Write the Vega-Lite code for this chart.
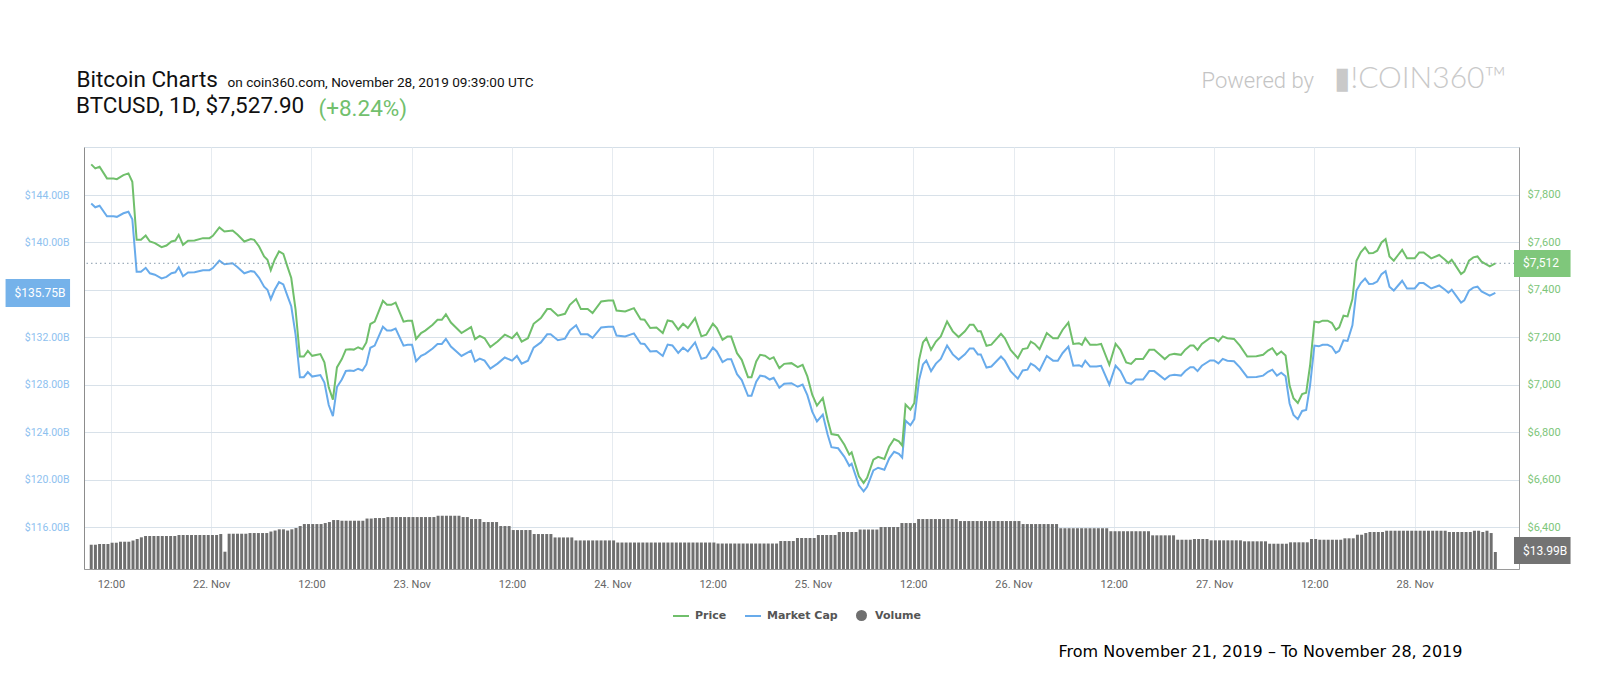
{
"$schema": "https://vega.github.io/schema/vega-lite/v6.json",
"width": 1435,
"height": 422,
"autosize": "none",
"padding": {"left": 84, "top": 147, "right": 81, "bottom": 131},
"background": "white",
"config": {"view": {"stroke": "#d5dfe8"}, "font": "Roboto"},
"title": {"text": "BTCUSD, 1D, $7,527.90", "anchor": "start", "frame": "group", "orient": "top", "offset": 0, "dx": -8, "dy": 72, "baseline": "alphabetic", "font": "Roboto", "fontSize": 22.5, "fontWeight": "normal", "color": "#111111"},
"datasets": {
"vol": [
{"t":"2019-11-21T09:39:00Z","v":19.98},{"t":"2019-11-21T10:09:00Z","v":19.98},{"t":"2019-11-21T10:39:00Z","v":20.56},{"t":"2019-11-21T11:09:00Z","v":20.56},{"t":"2019-11-21T11:39:00Z","v":20.56},{"t":"2019-11-21T12:09:00Z","v":21.63},{"t":"2019-11-21T12:39:00Z","v":21.63},{"t":"2019-11-21T13:09:00Z","v":22.45},{"t":"2019-11-21T13:39:00Z","v":22.45},{"t":"2019-11-21T14:09:00Z","v":22.45},{"t":"2019-11-21T14:39:00Z","v":23.44},{"t":"2019-11-21T15:09:00Z","v":24.67},{"t":"2019-11-21T15:39:00Z","v":26.07},{"t":"2019-11-21T16:09:00Z","v":27.14},{"t":"2019-11-21T16:39:00Z","v":27.14},{"t":"2019-11-21T17:09:00Z","v":27.14},{"t":"2019-11-21T17:39:00Z","v":27.14},{"t":"2019-11-21T18:09:00Z","v":27.14},{"t":"2019-11-21T18:39:00Z","v":27.14},{"t":"2019-11-21T19:09:00Z","v":27.14},{"t":"2019-11-21T19:39:00Z","v":27.14},{"t":"2019-11-21T20:09:00Z","v":27.96},{"t":"2019-11-21T20:39:00Z","v":27.96},{"t":"2019-11-21T21:09:00Z","v":27.96},{"t":"2019-11-21T21:39:00Z","v":27.96},{"t":"2019-11-21T22:09:00Z","v":27.96},{"t":"2019-11-21T22:39:00Z","v":27.96},{"t":"2019-11-21T23:09:00Z","v":27.96},{"t":"2019-11-21T23:39:00Z","v":27.96},
{"t":"2019-11-22T00:09:00Z","v":27.96},{"t":"2019-11-22T00:39:00Z","v":27.96},{"t":"2019-11-22T01:09:00Z","v":28.78},{"t":"2019-11-22T01:39:00Z","v":14.23},{"t":"2019-11-22T02:09:00Z","v":29.03},{"t":"2019-11-22T02:39:00Z","v":29.03},{"t":"2019-11-22T03:09:00Z","v":29.03},{"t":"2019-11-22T03:39:00Z","v":29.03},{"t":"2019-11-22T04:09:00Z","v":29.03},{"t":"2019-11-22T04:39:00Z","v":29.6},{"t":"2019-11-22T05:09:00Z","v":29.6},{"t":"2019-11-22T05:39:00Z","v":29.6},{"t":"2019-11-22T06:09:00Z","v":29.6},{"t":"2019-11-22T06:39:00Z","v":29.6},{"t":"2019-11-22T07:09:00Z","v":30.84},{"t":"2019-11-22T07:39:00Z","v":31.66},{"t":"2019-11-22T08:09:00Z","v":32.65},{"t":"2019-11-22T08:39:00Z","v":32.65},{"t":"2019-11-22T09:09:00Z","v":31.66},{"t":"2019-11-22T09:39:00Z","v":32.65},{"t":"2019-11-22T10:09:00Z","v":33.71},{"t":"2019-11-22T10:39:00Z","v":35.36},{"t":"2019-11-22T11:09:00Z","v":37.0},{"t":"2019-11-22T11:39:00Z","v":37.0},{"t":"2019-11-22T12:09:00Z","v":37.0},{"t":"2019-11-22T12:39:00Z","v":37.0},{"t":"2019-11-22T13:09:00Z","v":37.0},{"t":"2019-11-22T13:39:00Z","v":37.83},{"t":"2019-11-22T14:09:00Z","v":38.65},{"t":"2019-11-22T14:39:00Z","v":40.29},{"t":"2019-11-22T15:09:00Z","v":40.29},{"t":"2019-11-22T15:39:00Z","v":39.72},{"t":"2019-11-22T16:09:00Z","v":39.72},{"t":"2019-11-22T16:39:00Z","v":39.72},{"t":"2019-11-22T17:09:00Z","v":39.72},{"t":"2019-11-22T17:39:00Z","v":39.72},{"t":"2019-11-22T18:09:00Z","v":39.72},{"t":"2019-11-22T18:39:00Z","v":41.53},{"t":"2019-11-22T19:09:00Z","v":41.53},{"t":"2019-11-22T19:39:00Z","v":41.94},{"t":"2019-11-22T20:09:00Z","v":41.94},{"t":"2019-11-22T20:39:00Z","v":41.94},{"t":"2019-11-22T21:09:00Z","v":42.76},{"t":"2019-11-22T21:39:00Z","v":42.76},{"t":"2019-11-22T22:09:00Z","v":42.76},{"t":"2019-11-22T22:39:00Z","v":42.76},{"t":"2019-11-22T23:09:00Z","v":42.76},{"t":"2019-11-22T23:39:00Z","v":42.76},
{"t":"2019-11-23T00:09:00Z","v":42.76},{"t":"2019-11-23T00:39:00Z","v":42.76},{"t":"2019-11-23T01:09:00Z","v":42.76},{"t":"2019-11-23T01:39:00Z","v":42.76},{"t":"2019-11-23T02:09:00Z","v":42.76},{"t":"2019-11-23T02:39:00Z","v":42.76},{"t":"2019-11-23T03:09:00Z","v":43.83},{"t":"2019-11-23T03:39:00Z","v":43.83},{"t":"2019-11-23T04:09:00Z","v":43.83},{"t":"2019-11-23T04:39:00Z","v":43.83},{"t":"2019-11-23T05:09:00Z","v":43.83},{"t":"2019-11-23T05:39:00Z","v":43.83},{"t":"2019-11-23T06:09:00Z","v":42.76},{"t":"2019-11-23T06:39:00Z","v":42.76},{"t":"2019-11-23T07:09:00Z","v":41.12},{"t":"2019-11-23T07:39:00Z","v":41.12},{"t":"2019-11-23T08:09:00Z","v":41.12},{"t":"2019-11-23T08:39:00Z","v":38.65},{"t":"2019-11-23T09:09:00Z","v":38.65},{"t":"2019-11-23T09:39:00Z","v":38.65},{"t":"2019-11-23T10:09:00Z","v":38.65},{"t":"2019-11-23T10:39:00Z","v":35.36},{"t":"2019-11-23T11:09:00Z","v":35.36},{"t":"2019-11-23T11:39:00Z","v":35.36},{"t":"2019-11-23T12:09:00Z","v":32.07},{"t":"2019-11-23T12:39:00Z","v":32.07},{"t":"2019-11-23T13:09:00Z","v":32.07},{"t":"2019-11-23T13:39:00Z","v":32.07},{"t":"2019-11-23T14:09:00Z","v":32.07},{"t":"2019-11-23T14:39:00Z","v":28.78},{"t":"2019-11-23T15:09:00Z","v":28.78},{"t":"2019-11-23T15:39:00Z","v":28.78},{"t":"2019-11-23T16:09:00Z","v":28.78},{"t":"2019-11-23T16:39:00Z","v":28.78},{"t":"2019-11-23T17:09:00Z","v":25.98},{"t":"2019-11-23T17:39:00Z","v":25.98},{"t":"2019-11-23T18:09:00Z","v":25.98},{"t":"2019-11-23T18:39:00Z","v":25.98},{"t":"2019-11-23T19:09:00Z","v":25.98},{"t":"2019-11-23T19:39:00Z","v":23.52},{"t":"2019-11-23T20:09:00Z","v":23.52},{"t":"2019-11-23T20:39:00Z","v":23.52},{"t":"2019-11-23T21:09:00Z","v":23.52},{"t":"2019-11-23T21:39:00Z","v":23.52},{"t":"2019-11-23T22:09:00Z","v":23.52},{"t":"2019-11-23T22:39:00Z","v":23.52},{"t":"2019-11-23T23:09:00Z","v":23.52},{"t":"2019-11-23T23:39:00Z","v":23.52},
{"t":"2019-11-24T00:09:00Z","v":23.52},{"t":"2019-11-24T00:39:00Z","v":21.79},{"t":"2019-11-24T01:09:00Z","v":21.79},{"t":"2019-11-24T01:39:00Z","v":21.79},{"t":"2019-11-24T02:09:00Z","v":21.79},{"t":"2019-11-24T02:39:00Z","v":21.79},{"t":"2019-11-24T03:09:00Z","v":21.79},{"t":"2019-11-24T03:39:00Z","v":21.79},{"t":"2019-11-24T04:09:00Z","v":21.79},{"t":"2019-11-24T04:39:00Z","v":21.79},{"t":"2019-11-24T05:09:00Z","v":21.79},{"t":"2019-11-24T05:39:00Z","v":21.79},{"t":"2019-11-24T06:09:00Z","v":21.79},{"t":"2019-11-24T06:39:00Z","v":21.79},{"t":"2019-11-24T07:09:00Z","v":21.79},{"t":"2019-11-24T07:39:00Z","v":21.79},{"t":"2019-11-24T08:09:00Z","v":21.79},{"t":"2019-11-24T08:39:00Z","v":21.79},{"t":"2019-11-24T09:09:00Z","v":21.79},{"t":"2019-11-24T09:39:00Z","v":21.79},{"t":"2019-11-24T10:09:00Z","v":21.79},{"t":"2019-11-24T10:39:00Z","v":21.79},{"t":"2019-11-24T11:09:00Z","v":21.79},{"t":"2019-11-24T11:39:00Z","v":21.79},{"t":"2019-11-24T12:09:00Z","v":21.79},{"t":"2019-11-24T12:39:00Z","v":20.97},{"t":"2019-11-24T13:09:00Z","v":20.97},{"t":"2019-11-24T13:39:00Z","v":20.97},{"t":"2019-11-24T14:09:00Z","v":20.97},{"t":"2019-11-24T14:39:00Z","v":20.97},{"t":"2019-11-24T15:09:00Z","v":20.97},{"t":"2019-11-24T15:39:00Z","v":20.97},{"t":"2019-11-24T16:09:00Z","v":20.97},{"t":"2019-11-24T16:39:00Z","v":20.97},{"t":"2019-11-24T17:09:00Z","v":20.97},{"t":"2019-11-24T17:39:00Z","v":20.97},{"t":"2019-11-24T18:09:00Z","v":20.97},{"t":"2019-11-24T18:39:00Z","v":20.97},{"t":"2019-11-24T19:09:00Z","v":20.97},{"t":"2019-11-24T19:39:00Z","v":20.97},{"t":"2019-11-24T20:09:00Z","v":23.02},{"t":"2019-11-24T20:39:00Z","v":23.02},{"t":"2019-11-24T21:09:00Z","v":23.02},{"t":"2019-11-24T21:39:00Z","v":23.02},{"t":"2019-11-24T22:09:00Z","v":25.49},{"t":"2019-11-24T22:39:00Z","v":25.49},{"t":"2019-11-24T23:09:00Z","v":25.49},{"t":"2019-11-24T23:39:00Z","v":25.49},
{"t":"2019-11-25T00:09:00Z","v":25.49},{"t":"2019-11-25T00:39:00Z","v":27.96},{"t":"2019-11-25T01:09:00Z","v":27.96},{"t":"2019-11-25T01:39:00Z","v":27.96},{"t":"2019-11-25T02:09:00Z","v":27.96},{"t":"2019-11-25T02:39:00Z","v":27.96},{"t":"2019-11-25T03:09:00Z","v":30.43},{"t":"2019-11-25T03:39:00Z","v":30.43},{"t":"2019-11-25T04:09:00Z","v":30.43},{"t":"2019-11-25T04:39:00Z","v":30.43},{"t":"2019-11-25T05:09:00Z","v":30.43},{"t":"2019-11-25T05:39:00Z","v":32.48},{"t":"2019-11-25T06:09:00Z","v":32.48},{"t":"2019-11-25T06:39:00Z","v":32.48},{"t":"2019-11-25T07:09:00Z","v":32.48},{"t":"2019-11-25T07:39:00Z","v":32.48},{"t":"2019-11-25T08:09:00Z","v":34.54},{"t":"2019-11-25T08:39:00Z","v":34.54},{"t":"2019-11-25T09:09:00Z","v":34.54},{"t":"2019-11-25T09:39:00Z","v":34.54},{"t":"2019-11-25T10:09:00Z","v":34.54},{"t":"2019-11-25T10:39:00Z","v":37.83},{"t":"2019-11-25T11:09:00Z","v":37.83},{"t":"2019-11-25T11:39:00Z","v":37.83},{"t":"2019-11-25T12:09:00Z","v":37.83},{"t":"2019-11-25T12:39:00Z","v":41.12},{"t":"2019-11-25T13:09:00Z","v":41.12},{"t":"2019-11-25T13:39:00Z","v":41.12},{"t":"2019-11-25T14:09:00Z","v":41.12},{"t":"2019-11-25T14:39:00Z","v":41.12},{"t":"2019-11-25T15:09:00Z","v":41.12},{"t":"2019-11-25T15:39:00Z","v":41.12},{"t":"2019-11-25T16:09:00Z","v":41.12},{"t":"2019-11-25T16:39:00Z","v":41.12},{"t":"2019-11-25T17:09:00Z","v":41.12},{"t":"2019-11-25T17:39:00Z","v":39.47},{"t":"2019-11-25T18:09:00Z","v":39.47},{"t":"2019-11-25T18:39:00Z","v":39.47},{"t":"2019-11-25T19:09:00Z","v":39.47},{"t":"2019-11-25T19:39:00Z","v":39.47},{"t":"2019-11-25T20:09:00Z","v":39.47},{"t":"2019-11-25T20:39:00Z","v":39.47},{"t":"2019-11-25T21:09:00Z","v":39.47},{"t":"2019-11-25T21:39:00Z","v":39.47},{"t":"2019-11-25T22:09:00Z","v":39.47},{"t":"2019-11-25T22:39:00Z","v":39.47},{"t":"2019-11-25T23:09:00Z","v":39.47},{"t":"2019-11-25T23:39:00Z","v":39.47},
{"t":"2019-11-26T00:09:00Z","v":39.47},{"t":"2019-11-26T00:39:00Z","v":39.47},{"t":"2019-11-26T01:09:00Z","v":37.0},{"t":"2019-11-26T01:39:00Z","v":37.0},{"t":"2019-11-26T02:09:00Z","v":37.0},{"t":"2019-11-26T02:39:00Z","v":37.0},{"t":"2019-11-26T03:09:00Z","v":37.0},{"t":"2019-11-26T03:39:00Z","v":37.0},{"t":"2019-11-26T04:09:00Z","v":37.0},{"t":"2019-11-26T04:39:00Z","v":37.0},{"t":"2019-11-26T05:09:00Z","v":37.0},{"t":"2019-11-26T05:39:00Z","v":33.55},{"t":"2019-11-26T06:09:00Z","v":33.55},{"t":"2019-11-26T06:39:00Z","v":33.55},{"t":"2019-11-26T07:09:00Z","v":33.55},{"t":"2019-11-26T07:39:00Z","v":33.55},{"t":"2019-11-26T08:09:00Z","v":33.55},{"t":"2019-11-26T08:39:00Z","v":33.55},{"t":"2019-11-26T09:09:00Z","v":33.55},{"t":"2019-11-26T09:39:00Z","v":33.55},{"t":"2019-11-26T10:09:00Z","v":33.55},{"t":"2019-11-26T10:39:00Z","v":33.55},{"t":"2019-11-26T11:09:00Z","v":33.55},{"t":"2019-11-26T11:39:00Z","v":31.08},{"t":"2019-11-26T12:09:00Z","v":31.08},{"t":"2019-11-26T12:39:00Z","v":31.08},{"t":"2019-11-26T13:09:00Z","v":31.08},{"t":"2019-11-26T13:39:00Z","v":31.08},{"t":"2019-11-26T14:09:00Z","v":31.08},{"t":"2019-11-26T14:39:00Z","v":31.08},{"t":"2019-11-26T15:09:00Z","v":31.08},{"t":"2019-11-26T15:39:00Z","v":31.08},{"t":"2019-11-26T16:09:00Z","v":31.08},{"t":"2019-11-26T16:39:00Z","v":27.71},{"t":"2019-11-26T17:09:00Z","v":27.71},{"t":"2019-11-26T17:39:00Z","v":27.71},{"t":"2019-11-26T18:09:00Z","v":27.71},{"t":"2019-11-26T18:39:00Z","v":27.71},{"t":"2019-11-26T19:09:00Z","v":27.71},{"t":"2019-11-26T19:39:00Z","v":24.09},{"t":"2019-11-26T20:09:00Z","v":24.09},{"t":"2019-11-26T20:39:00Z","v":24.09},{"t":"2019-11-26T21:09:00Z","v":24.09},{"t":"2019-11-26T21:39:00Z","v":24.67},{"t":"2019-11-26T22:09:00Z","v":24.67},{"t":"2019-11-26T22:39:00Z","v":24.67},{"t":"2019-11-26T23:09:00Z","v":24.67},{"t":"2019-11-26T23:39:00Z","v":23.6},
{"t":"2019-11-27T00:09:00Z","v":23.6},{"t":"2019-11-27T00:39:00Z","v":23.6},{"t":"2019-11-27T01:09:00Z","v":23.6},{"t":"2019-11-27T01:39:00Z","v":23.6},{"t":"2019-11-27T02:09:00Z","v":23.6},{"t":"2019-11-27T02:39:00Z","v":23.6},{"t":"2019-11-27T03:09:00Z","v":23.6},{"t":"2019-11-27T03:39:00Z","v":22.78},{"t":"2019-11-27T04:09:00Z","v":22.78},{"t":"2019-11-27T04:39:00Z","v":22.78},{"t":"2019-11-27T05:09:00Z","v":22.78},{"t":"2019-11-27T05:39:00Z","v":22.78},{"t":"2019-11-27T06:09:00Z","v":22.78},{"t":"2019-11-27T06:39:00Z","v":20.8},{"t":"2019-11-27T07:09:00Z","v":20.8},{"t":"2019-11-27T07:39:00Z","v":20.8},{"t":"2019-11-27T08:09:00Z","v":20.8},{"t":"2019-11-27T08:39:00Z","v":20.8},{"t":"2019-11-27T09:09:00Z","v":21.96},{"t":"2019-11-27T09:39:00Z","v":21.96},{"t":"2019-11-27T10:09:00Z","v":21.96},{"t":"2019-11-27T10:39:00Z","v":21.96},{"t":"2019-11-27T11:09:00Z","v":21.96},{"t":"2019-11-27T11:39:00Z","v":24.67},{"t":"2019-11-27T12:09:00Z","v":24.67},{"t":"2019-11-27T12:39:00Z","v":24.09},{"t":"2019-11-27T13:09:00Z","v":24.09},{"t":"2019-11-27T13:39:00Z","v":24.09},{"t":"2019-11-27T14:09:00Z","v":24.09},{"t":"2019-11-27T14:39:00Z","v":24.09},{"t":"2019-11-27T15:09:00Z","v":24.09},{"t":"2019-11-27T15:39:00Z","v":25.25},{"t":"2019-11-27T16:09:00Z","v":25.25},{"t":"2019-11-27T16:39:00Z","v":25.25},{"t":"2019-11-27T17:09:00Z","v":28.21},{"t":"2019-11-27T17:39:00Z","v":28.21},{"t":"2019-11-27T18:09:00Z","v":29.6},{"t":"2019-11-27T18:39:00Z","v":30.43},{"t":"2019-11-27T19:09:00Z","v":30.43},{"t":"2019-11-27T19:39:00Z","v":30.43},{"t":"2019-11-27T20:09:00Z","v":30.43},{"t":"2019-11-27T20:39:00Z","v":31.49},{"t":"2019-11-27T21:09:00Z","v":31.49},{"t":"2019-11-27T21:39:00Z","v":31.49},{"t":"2019-11-27T22:09:00Z","v":31.49},{"t":"2019-11-27T22:39:00Z","v":31.49},{"t":"2019-11-27T23:09:00Z","v":31.49},{"t":"2019-11-27T23:39:00Z","v":31.49},
{"t":"2019-11-28T00:09:00Z","v":31.49},{"t":"2019-11-28T00:39:00Z","v":31.49},{"t":"2019-11-28T01:09:00Z","v":31.49},{"t":"2019-11-28T01:39:00Z","v":31.49},{"t":"2019-11-28T02:09:00Z","v":31.49},{"t":"2019-11-28T02:39:00Z","v":31.49},{"t":"2019-11-28T03:09:00Z","v":31.49},{"t":"2019-11-28T03:39:00Z","v":31.49},{"t":"2019-11-28T04:09:00Z","v":30.43},{"t":"2019-11-28T04:39:00Z","v":30.43},{"t":"2019-11-28T05:09:00Z","v":30.43},{"t":"2019-11-28T05:39:00Z","v":30.43},{"t":"2019-11-28T06:09:00Z","v":30.43},{"t":"2019-11-28T06:39:00Z","v":30.43},{"t":"2019-11-28T07:09:00Z","v":31.49},{"t":"2019-11-28T07:39:00Z","v":31.49},{"t":"2019-11-28T08:09:00Z","v":30.43},{"t":"2019-11-28T08:39:00Z","v":31.49},{"t":"2019-11-28T09:09:00Z","v":29.6},{"t":"2019-11-28T09:39:00Z","v":13.99}
],
"px": [
{"t":"2019-11-21T09:39:00Z","p":7929,"c":143.28},{"t":"2019-11-21T10:08:00Z","p":7912,"c":142.97},{"t":"2019-11-21T10:39:00Z","p":7919,"c":143.1},{"t":"2019-11-21T11:32:00Z","p":7870,"c":142.21},{"t":"2019-11-21T12:19:00Z","p":7870,"c":142.21},{"t":"2019-11-21T12:43:00Z","p":7867,"c":142.16},{"t":"2019-11-21T13:30:00Z","p":7884,"c":142.46},{"t":"2019-11-21T14:06:00Z","p":7891,"c":142.59},{"t":"2019-11-21T14:34:00Z","p":7856,"c":141.96},{"t":"2019-11-21T15:05:00Z","p":7611,"c":137.53},{"t":"2019-11-21T15:36:00Z","p":7611,"c":137.53},{"t":"2019-11-21T16:10:00Z","p":7629,"c":137.86},{"t":"2019-11-21T16:40:00Z","p":7604,"c":137.4},{"t":"2019-11-21T17:16:00Z","p":7597,"c":137.28},{"t":"2019-11-21T18:04:00Z","p":7580,"c":136.97},{"t":"2019-11-21T18:39:00Z","p":7587,"c":137.1},{"t":"2019-11-21T19:15:00Z","p":7604,"c":137.4},{"t":"2019-11-21T19:43:00Z","p":7608,"c":137.48},{"t":"2019-11-21T20:07:00Z","p":7632,"c":137.91},{"t":"2019-11-21T20:38:00Z","p":7590,"c":137.15},{"t":"2019-11-21T21:14:00Z","p":7607,"c":137.46},{"t":"2019-11-21T22:01:00Z","p":7608,"c":137.48},{"t":"2019-11-21T23:01:00Z","p":7618,"c":137.66},{"t":"2019-11-21T23:48:00Z","p":7618,"c":137.66},
{"t":"2019-11-22T00:12:00Z","p":7628,"c":137.84},{"t":"2019-11-22T00:59:00Z","p":7663,"c":138.47},{"t":"2019-11-22T01:35:00Z","p":7646,"c":138.16},{"t":"2019-11-22T02:34:00Z","p":7650,"c":138.24},{"t":"2019-11-22T03:10:00Z","p":7632,"c":137.91},{"t":"2019-11-22T03:58:00Z","p":7604,"c":137.4},{"t":"2019-11-22T04:45:00Z","p":7614,"c":137.58},{"t":"2019-11-22T05:09:00Z","p":7611,"c":137.53},{"t":"2019-11-22T05:44:00Z","p":7583,"c":137.02},{"t":"2019-11-22T06:20:00Z","p":7541,"c":136.27},{"t":"2019-11-22T06:44:00Z","p":7527,"c":136.01},{"t":"2019-11-22T07:08:00Z","p":7483,"c":135.22},{"t":"2019-11-22T07:36:00Z","p":7527,"c":136.01},{"t":"2019-11-22T08:07:00Z","p":7562,"c":136.65},{"t":"2019-11-22T08:38:00Z","p":7552,"c":136.46},{"t":"2019-11-22T09:07:00Z","p":7499,"c":135.51},{"t":"2019-11-22T09:35:00Z","p":7450,"c":134.62},{"t":"2019-11-22T10:06:00Z","p":7317,"c":132.22},{"t":"2019-11-22T10:37:00Z","p":7119,"c":128.64},{"t":"2019-11-22T11:05:00Z","p":7119,"c":128.64},{"t":"2019-11-22T11:34:00Z","p":7143,"c":129.07},{"t":"2019-11-22T12:05:00Z","p":7122,"c":128.69},{"t":"2019-11-22T13:04:00Z","p":7129,"c":128.82},{"t":"2019-11-22T13:33:00Z","p":7094,"c":128.19},{"t":"2019-11-22T14:04:00Z","p":6989,"c":126.29},{"t":"2019-11-22T14:34:00Z","p":6937,"c":125.35},{"t":"2019-11-22T15:03:00Z","p":7073,"c":127.81},{"t":"2019-11-22T15:38:00Z","p":7108,"c":128.44},{"t":"2019-11-22T16:07:00Z","p":7148,"c":129.16},{"t":"2019-11-22T16:36:00Z","p":7150,"c":129.2},{"t":"2019-11-22T17:04:00Z","p":7148,"c":129.16},{"t":"2019-11-22T17:35:00Z","p":7158,"c":129.35},{"t":"2019-11-22T18:06:00Z","p":7150,"c":129.2},{"t":"2019-11-22T18:34:00Z","p":7178,"c":129.71},{"t":"2019-11-22T19:03:00Z","p":7256,"c":131.12},{"t":"2019-11-22T19:34:00Z","p":7266,"c":131.3},{"t":"2019-11-22T20:33:00Z","p":7354,"c":132.89},{"t":"2019-11-22T21:02:00Z","p":7337,"c":132.58},{"t":"2019-11-22T21:33:00Z","p":7337,"c":132.58},{"t":"2019-11-22T22:04:00Z","p":7346,"c":132.74},{"t":"2019-11-22T23:01:00Z","p":7266,"c":131.3},{"t":"2019-11-22T23:31:00Z","p":7270,"c":131.37},
{"t":"2019-11-23T00:02:00Z","p":7270,"c":131.37},{"t":"2019-11-23T00:31:00Z","p":7193,"c":129.98},{"t":"2019-11-23T01:07:00Z","p":7218,"c":130.43},{"t":"2019-11-23T01:37:00Z","p":7228,"c":130.61},{"t":"2019-11-23T02:30:00Z","p":7253,"c":131.06},{"t":"2019-11-23T03:05:00Z","p":7274,"c":131.44},{"t":"2019-11-23T03:36:00Z","p":7274,"c":131.44},{"t":"2019-11-23T04:05:00Z","p":7297,"c":131.86},{"t":"2019-11-23T04:41:00Z","p":7262,"c":131.22},{"t":"2019-11-23T05:57:00Z","p":7218,"c":130.43},{"t":"2019-11-23T07:06:00Z","p":7243,"c":130.88},{"t":"2019-11-23T07:34:00Z","p":7192,"c":129.96},{"t":"2019-11-23T08:08:00Z","p":7206,"c":130.21},{"t":"2019-11-23T08:43:00Z","p":7196,"c":130.03},{"t":"2019-11-23T09:24:00Z","p":7159,"c":129.36},{"t":"2019-11-23T10:16:00Z","p":7182,"c":129.78},{"t":"2019-11-23T11:08:00Z","p":7211,"c":130.3},{"t":"2019-11-23T12:00:00Z","p":7196,"c":130.03},{"t":"2019-11-23T12:35:00Z","p":7218,"c":130.43},{"t":"2019-11-23T13:09:00Z","p":7182,"c":129.78},{"t":"2019-11-23T13:54:00Z","p":7196,"c":130.03},{"t":"2019-11-23T14:35:00Z","p":7257,"c":131.13},{"t":"2019-11-23T15:27:00Z","p":7281,"c":131.57},{"t":"2019-11-23T16:12:00Z","p":7319,"c":132.25},{"t":"2019-11-23T16:37:00Z","p":7319,"c":132.25},{"t":"2019-11-23T17:29:00Z","p":7291,"c":131.75},{"t":"2019-11-23T18:20:00Z","p":7299,"c":131.89},{"t":"2019-11-23T18:55:00Z","p":7337,"c":132.58},{"t":"2019-11-23T19:40:00Z","p":7361,"c":133.01},{"t":"2019-11-23T20:14:00Z","p":7319,"c":132.25},{"t":"2019-11-23T21:03:00Z","p":7319,"c":132.25},{"t":"2019-11-23T21:38:00Z","p":7302,"c":131.95},{"t":"2019-11-23T22:40:00Z","p":7351,"c":132.83},{"t":"2019-11-23T23:32:00Z","p":7355,"c":132.9},
{"t":"2019-11-24T00:06:00Z","p":7355,"c":132.9},{"t":"2019-11-24T00:30:00Z","p":7313,"c":132.15},{"t":"2019-11-24T01:32:00Z","p":7309,"c":132.07},{"t":"2019-11-24T02:35:00Z","p":7323,"c":132.33},{"t":"2019-11-24T03:23:00Z","p":7276,"c":131.48},{"t":"2019-11-24T03:51:00Z","p":7274,"c":131.44},{"t":"2019-11-24T04:32:00Z","p":7239,"c":130.81},{"t":"2019-11-24T05:17:00Z","p":7241,"c":130.85},{"t":"2019-11-24T06:02:00Z","p":7218,"c":130.43},{"t":"2019-11-24T06:37:00Z","p":7271,"c":131.39},{"t":"2019-11-24T07:11:00Z","p":7267,"c":131.31},{"t":"2019-11-24T07:53:00Z","p":7232,"c":130.68},{"t":"2019-11-24T08:28:00Z","p":7257,"c":131.13},{"t":"2019-11-24T09:02:00Z","p":7239,"c":130.81},{"t":"2019-11-24T09:54:00Z","p":7281,"c":131.57},{"t":"2019-11-24T10:39:00Z","p":7204,"c":130.18},{"t":"2019-11-24T11:14:00Z","p":7211,"c":130.3},{"t":"2019-11-24T12:02:00Z","p":7257,"c":131.13},{"t":"2019-11-24T12:30:00Z","p":7239,"c":130.81},{"t":"2019-11-24T13:11:00Z","p":7189,"c":129.91},{"t":"2019-11-24T13:46:00Z","p":7203,"c":130.16},{"t":"2019-11-24T14:13:00Z","p":7203,"c":130.16},{"t":"2019-11-24T14:55:00Z","p":7133,"c":128.89},{"t":"2019-11-24T15:29:00Z","p":7105,"c":128.39},{"t":"2019-11-24T16:14:00Z","p":7032,"c":127.07},{"t":"2019-11-24T16:39:00Z","p":7032,"c":127.07},{"t":"2019-11-24T17:13:00Z","p":7098,"c":128.26},{"t":"2019-11-24T17:41:00Z","p":7126,"c":128.77},{"t":"2019-11-24T18:16:00Z","p":7122,"c":128.69},{"t":"2019-11-24T18:50:00Z","p":7108,"c":128.44},{"t":"2019-11-24T19:18:00Z","p":7116,"c":128.59},{"t":"2019-11-24T19:59:00Z","p":7070,"c":127.75},{"t":"2019-11-24T20:34:00Z","p":7088,"c":128.08},{"t":"2019-11-24T21:26:00Z","p":7091,"c":128.13},{"t":"2019-11-24T22:11:00Z","p":7074,"c":127.83},{"t":"2019-11-24T22:46:00Z","p":7084,"c":128.01},{"t":"2019-11-24T23:20:00Z","p":7035,"c":127.12},{"t":"2019-11-24T23:55:00Z","p":6958,"c":125.73},
{"t":"2019-11-25T00:29:00Z","p":6912,"c":124.9},{"t":"2019-11-25T01:11:00Z","p":6944,"c":125.48},{"t":"2019-11-25T01:45:00Z","p":6853,"c":123.83},{"t":"2019-11-25T02:13:00Z","p":6792,"c":122.73},{"t":"2019-11-25T03:01:00Z","p":6787,"c":122.64},{"t":"2019-11-25T03:46:00Z","p":6747,"c":121.92},{"t":"2019-11-25T04:21:00Z","p":6705,"c":121.16},{"t":"2019-11-25T04:38:00Z","p":6715,"c":121.34},{"t":"2019-11-25T05:30:00Z","p":6614,"c":119.52},{"t":"2019-11-25T06:04:00Z","p":6586,"c":119.01},{"t":"2019-11-25T06:29:00Z","p":6607,"c":119.39},{"t":"2019-11-25T07:14:00Z","p":6684,"c":120.78},{"t":"2019-11-25T07:48:00Z","p":6696,"c":121.0},{"t":"2019-11-25T08:33:00Z","p":6687,"c":120.83},{"t":"2019-11-25T09:08:00Z","p":6740,"c":121.79},{"t":"2019-11-25T09:43:00Z","p":6771,"c":122.35},{"t":"2019-11-25T10:17:00Z","p":6761,"c":122.17},{"t":"2019-11-25T10:41:00Z","p":6743,"c":121.85},{"t":"2019-11-25T11:05:00Z","p":6916,"c":124.97},{"t":"2019-11-25T11:40:00Z","p":6895,"c":124.59},{"t":"2019-11-25T12:08:00Z","p":6923,"c":125.1},{"t":"2019-11-25T12:42:00Z","p":7105,"c":128.39},{"t":"2019-11-25T13:10:00Z","p":7178,"c":129.71},{"t":"2019-11-25T13:34:00Z","p":7196,"c":130.03},{"t":"2019-11-25T14:08:00Z","p":7147,"c":129.15},{"t":"2019-11-25T14:43:00Z","p":7182,"c":129.78},{"t":"2019-11-25T15:18:00Z","p":7204,"c":130.18},{"t":"2019-11-25T16:03:00Z","p":7267,"c":131.31},{"t":"2019-11-25T16:44:00Z","p":7225,"c":130.56},{"t":"2019-11-25T17:26:00Z","p":7201,"c":130.12},{"t":"2019-11-25T18:11:00Z","p":7225,"c":130.56},{"t":"2019-11-25T18:46:00Z","p":7253,"c":131.06},{"t":"2019-11-25T19:13:00Z","p":7253,"c":131.06},{"t":"2019-11-25T19:44:00Z","p":7225,"c":130.56},{"t":"2019-11-25T20:05:00Z","p":7225,"c":130.56},{"t":"2019-11-25T20:46:00Z","p":7164,"c":129.45},{"t":"2019-11-25T21:21:00Z","p":7169,"c":129.54},{"t":"2019-11-25T22:30:00Z","p":7215,"c":130.38},{"t":"2019-11-25T22:58:00Z","p":7196,"c":130.03},{"t":"2019-11-25T23:39:00Z","p":7147,"c":129.15},
{"t":"2019-11-26T00:31:00Z","p":7112,"c":128.51},{"t":"2019-11-26T01:06:00Z","p":7150,"c":129.2},{"t":"2019-11-26T01:40:00Z","p":7154,"c":129.27},{"t":"2019-11-26T02:04:00Z","p":7182,"c":129.78},{"t":"2019-11-26T02:32:00Z","p":7172,"c":129.6},{"t":"2019-11-26T03:07:00Z","p":7150,"c":129.2},{"t":"2019-11-26T03:59:00Z","p":7218,"c":130.43},{"t":"2019-11-26T04:44:00Z","p":7196,"c":130.03},{"t":"2019-11-26T05:18:00Z","p":7196,"c":130.03},{"t":"2019-11-26T05:53:00Z","p":7232,"c":130.68},{"t":"2019-11-26T06:34:00Z","p":7262,"c":131.22},{"t":"2019-11-26T07:09:00Z","p":7172,"c":129.6},{"t":"2019-11-26T07:50:00Z","p":7175,"c":129.65},{"t":"2019-11-26T08:11:00Z","p":7168,"c":129.53},{"t":"2019-11-26T08:35:00Z","p":7196,"c":130.03},{"t":"2019-11-26T09:10:00Z","p":7168,"c":129.53},{"t":"2019-11-26T09:55:00Z","p":7168,"c":129.53},{"t":"2019-11-26T10:29:00Z","p":7172,"c":129.6},{"t":"2019-11-26T11:28:00Z","p":7084,"c":128.01},{"t":"2019-11-26T12:13:00Z","p":7172,"c":129.6},{"t":"2019-11-26T12:48:00Z","p":7147,"c":129.15},{"t":"2019-11-26T13:29:00Z","p":7094,"c":128.19},{"t":"2019-11-26T14:04:00Z","p":7088,"c":128.08},{"t":"2019-11-26T14:38:00Z","p":7108,"c":128.44},{"t":"2019-11-26T15:30:00Z","p":7108,"c":128.44},{"t":"2019-11-26T16:15:00Z","p":7147,"c":129.15},{"t":"2019-11-26T16:50:00Z","p":7147,"c":129.15},{"t":"2019-11-26T17:31:00Z","p":7126,"c":128.77},{"t":"2019-11-26T18:06:00Z","p":7108,"c":128.44},{"t":"2019-11-26T18:40:00Z","p":7126,"c":128.77},{"t":"2019-11-26T19:15:00Z","p":7130,"c":128.84},{"t":"2019-11-26T20:02:00Z","p":7126,"c":128.77},{"t":"2019-11-26T20:33:00Z","p":7148,"c":129.16},{"t":"2019-11-26T21:09:00Z","p":7165,"c":129.47},{"t":"2019-11-26T21:33:00Z","p":7165,"c":129.47},{"t":"2019-11-26T22:01:00Z","p":7147,"c":129.15},{"t":"2019-11-26T22:32:00Z","p":7172,"c":129.6},{"t":"2019-11-26T23:31:00Z","p":7197,"c":130.05},
{"t":"2019-11-27T00:00:00Z","p":7197,"c":130.05},{"t":"2019-11-27T00:31:00Z","p":7183,"c":129.8},{"t":"2019-11-27T01:02:00Z","p":7204,"c":130.18},{"t":"2019-11-27T01:35:00Z","p":7196,"c":130.03},{"t":"2019-11-27T02:23:00Z","p":7193,"c":129.98},{"t":"2019-11-27T03:05:00Z","p":7165,"c":129.47},{"t":"2019-11-27T03:58:00Z","p":7119,"c":128.64},{"t":"2019-11-27T05:04:00Z","p":7120,"c":128.66},{"t":"2019-11-27T05:52:00Z","p":7126,"c":128.77},{"t":"2019-11-27T06:27:00Z","p":7144,"c":129.09},{"t":"2019-11-27T06:58:00Z","p":7154,"c":129.27},{"t":"2019-11-27T07:31:00Z","p":7126,"c":128.77},{"t":"2019-11-27T08:02:00Z","p":7140,"c":129.02},{"t":"2019-11-27T08:33:00Z","p":7123,"c":128.71},{"t":"2019-11-27T09:02:00Z","p":6996,"c":126.42},{"t":"2019-11-27T09:30:00Z","p":6943,"c":125.46},{"t":"2019-11-27T10:01:00Z","p":6923,"c":125.1},{"t":"2019-11-27T10:32:00Z","p":6961,"c":125.79},{"t":"2019-11-27T11:01:00Z","p":6966,"c":125.88},{"t":"2019-11-27T11:29:00Z","p":7081,"c":127.95},{"t":"2019-11-27T12:00:00Z","p":7266,"c":131.3},{"t":"2019-11-27T12:31:00Z","p":7263,"c":131.24},{"t":"2019-11-27T12:59:00Z","p":7270,"c":131.37},{"t":"2019-11-27T13:35:00Z","p":7270,"c":131.37},{"t":"2019-11-27T14:06:00Z","p":7260,"c":131.19},{"t":"2019-11-27T14:34:00Z","p":7232,"c":130.68},{"t":"2019-11-27T14:58:00Z","p":7242,"c":130.86},{"t":"2019-11-27T15:29:00Z","p":7291,"c":131.75},{"t":"2019-11-27T15:58:00Z","p":7288,"c":131.69},{"t":"2019-11-27T16:33:00Z","p":7361,"c":133.01},{"t":"2019-11-27T17:02:00Z","p":7523,"c":135.94},{"t":"2019-11-27T17:33:00Z","p":7558,"c":136.57},{"t":"2019-11-27T18:04:00Z","p":7579,"c":136.95},{"t":"2019-11-27T18:32:00Z","p":7554,"c":136.5},{"t":"2019-11-27T19:01:00Z","p":7555,"c":136.52},{"t":"2019-11-27T19:31:00Z","p":7565,"c":136.7},{"t":"2019-11-27T20:02:00Z","p":7600,"c":137.33},{"t":"2019-11-27T20:31:00Z","p":7614,"c":137.58},{"t":"2019-11-27T20:59:00Z","p":7541,"c":136.27},{"t":"2019-11-27T21:30:00Z","p":7523,"c":135.94},{"t":"2019-11-27T22:01:00Z","p":7547,"c":136.37},{"t":"2019-11-27T22:30:00Z","p":7569,"c":136.77},{"t":"2019-11-27T23:05:00Z","p":7533,"c":136.12},
{"t":"2019-11-28T00:00:00Z","p":7533,"c":136.12},{"t":"2019-11-28T00:33:00Z","p":7558,"c":136.57},{"t":"2019-11-28T01:04:00Z","p":7558,"c":136.57},{"t":"2019-11-28T01:59:00Z","p":7533,"c":136.12},{"t":"2019-11-28T02:56:00Z","p":7547,"c":136.37},{"t":"2019-11-28T03:38:00Z","p":7527,"c":136.01},{"t":"2019-11-28T04:02:00Z","p":7513,"c":135.76},{"t":"2019-11-28T04:26:00Z","p":7527,"c":136.01},{"t":"2019-11-28T05:02:00Z","p":7495,"c":135.43},{"t":"2019-11-28T05:33:00Z","p":7467,"c":134.93},{"t":"2019-11-28T05:56:00Z","p":7477,"c":135.11},{"t":"2019-11-28T06:30:00Z","p":7523,"c":135.94},{"t":"2019-11-28T07:01:00Z","p":7537,"c":136.19},{"t":"2019-11-28T07:31:00Z","p":7541,"c":136.27},{"t":"2019-11-28T08:00:00Z","p":7519,"c":135.87},{"t":"2019-11-28T08:59:00Z","p":7499,"c":135.51},{"t":"2019-11-28T09:39:00Z","p":7512,"c":135.75}
]
},
"layer": [
{
"data": {"name": "vol"},
"mark": {"type": "bar", "width": 3},
"encoding": {
"x": {"field": "t", "type": "temporal",
"scale": {"type": "utc", "nice": false, "domain": [{"year":2019,"month":11,"date":21,"hours":9,"minutes":23,"utc":true},{"year":2019,"month":11,"date":28,"hours":11,"minutes":53,"utc":true}]},
"axis": {"orient": "top", "labels": false, "ticks": false, "domain": false, "grid": false, "zindex": 0,
"title": "▮!COIN360™", "titleFont": "Lato", "titleFontSize": 30, "titleFontWeight": 300, "titleColor": "#c9c9c9",
"titleX": 1249, "titleY": -59.3, "titleAlign": "left", "titleBaseline": "alphabetic"}},
"y": {"field": "v", "type": "quantitative", "scale": {"domain": [0, 347.3], "nice": false, "zero": false},
"axis": {"orient": "right", "labels": false, "ticks": false, "domain": false, "grid": false, "zindex": 0,
"title": "Powered by", "titleFont": "Roboto", "titleFontSize": 22, "titleFontWeight": 300, "titleColor": "#c4c4c4",
"titleAngle": 0, "titleX": -318, "titleY": -59.3, "titleAlign": "left", "titleBaseline": "alphabetic"}},
"color": {"datum": "Volume", "type": "nominal", "scale": {"range": ["#6f6f6f"]},
"legend": {"orient": "none", "legendX": 771, "legendY": 462, "title": null, "padding": 0, "symbolType": "circle", "symbolSize": 121,
"labelFont": "DejaVu Sans", "labelFontSize": 11, "labelFontWeight": "bold", "labelColor": "#555555", "labelOffset": 7}}
}
},
{
"data": {"values": [{}]},
"mark": {"type": "rect", "color": "#737373"},
"encoding": {
"x": {"datum": {"year":2019,"month":11,"date":28,"hours":11,"minutes":53,"utc":true}, "type": "temporal", "axis": null},
"x2": {"datum": {"year":2019,"month":11,"date":28,"hours":18,"minutes":39,"utc":true}},
"y": {"datum": 4.1, "type": "quantitative", "scale": {"domain": [0, 347.3], "nice": false, "zero": false}, "axis": null},
"y2": {"datum": 26.3}
}
},
{
"data": {"values": [{}]},
"mark": {"type": "text", "align": "left", "baseline": "middle", "font": "Roboto", "fontSize": 12, "color": "white", "text": "$13.99B"},
"encoding": {
"x": {"datum": {"year":2019,"month":11,"date":28,"hours":12,"minutes":57,"utc":true}, "type": "temporal", "axis": null},
"y": {"datum": 15.2, "type": "quantitative", "scale": {"domain": [0, 347.3], "nice": false, "zero": false}, "axis": null}
}
},
{
"data": {"name": "px"},
"mark": {"type": "line", "strokeWidth": 2},
"encoding": {
"x": {"field": "t", "type": "temporal",
"scale": {"type": "utc", "nice": false, "domain": [{"year":2019,"month":11,"date":21,"hours":9,"minutes":23,"utc":true},{"year":2019,"month":11,"date":28,"hours":11,"minutes":53,"utc":true}]},
"axis": {"orient": "top", "labels": false, "ticks": false, "domain": false, "grid": false, "zindex": 0,
"title": "Bitcoin Charts", "titleFont": "Roboto", "titleFontSize": 22.5, "titleFontWeight": "normal", "titleColor": "#111111",
"titleX": -8, "titleY": -60.3, "titleAlign": "left", "titleBaseline": "alphabetic"}},
"y": {"field": "c", "type": "quantitative", "scale": {"domain": [112.46, 148.05], "nice": false, "zero": false},
"axis": {"orient": "left", "values": [116, 120, 124, 128, 132, 140, 144], "labelExpr": "'$' + format(datum.value, '.2f') + 'B'",
"grid": false, "ticks": false, "domainColor": "#8c8c8c", "labelColor": "#8ec1ef", "labelFont": "Roboto", "labelFontSize": 10.5, "labelPadding": 15, "zindex": 0,
"title": "on coin360.com, November 28, 2019 09:39:00 UTC", "titleFont": "Roboto", "titleFontSize": 13.6, "titleFontWeight": "normal", "titleColor": "#111111",
"titleAngle": 0, "titleX": 143, "titleY": -60.3, "titleAlign": "left", "titleBaseline": "alphabetic"}},
"color": {"datum": "Market Cap", "type": "nominal", "scale": {"range": ["#68abeb"]},
"legend": {"orient": "none", "legendX": 660, "legendY": 460, "title": null, "padding": 0, "symbolType": "stroke", "symbolSize": 256, "symbolStrokeWidth": 2,
"labelFont": "DejaVu Sans", "labelFontSize": 11, "labelFontWeight": "bold", "labelColor": "#555555", "labelOffset": 5}}
}
},
{
"data": {"values": [{}]},
"mark": {"type": "rect", "color": "#75b2ea"},
"encoding": {
"x": {"datum": {"year":2019,"month":11,"date":20,"hours":23,"minutes":24,"utc":true}, "type": "temporal", "axis": null},
"x2": {"datum": {"year":2019,"month":11,"date":21,"hours":7,"minutes":7,"utc":true}},
"y": {"datum": 134.55, "type": "quantitative", "scale": {"domain": [112.46, 148.05], "nice": false, "zero": false}, "axis": null},
"y2": {"datum": 136.92}
}
},
{
"data": {"values": [{}]},
"mark": {"type": "text", "align": "left", "baseline": "middle", "font": "Roboto", "fontSize": 12, "color": "white", "text": "$135.75B"},
"encoding": {
"x": {"datum": {"year":2019,"month":11,"date":21,"hours":0,"minutes":28,"utc":true}, "type": "temporal", "axis": null},
"y": {"datum": 135.75, "type": "quantitative", "scale": {"domain": [112.46, 148.05], "nice": false, "zero": false}, "axis": null}
}
},
{
"data": {"name": "px"},
"mark": {"type": "line", "strokeWidth": 2},
"encoding": {
"x": {"field": "t", "type": "temporal",
"scale": {"type": "utc", "nice": false, "domain": [{"year":2019,"month":11,"date":21,"hours":9,"minutes":23,"utc":true},{"year":2019,"month":11,"date":28,"hours":11,"minutes":53,"utc":true}]},
"axis": {"orient": "bottom",
"values": [{"year":2019,"month":11,"date":21,"hours":12,"utc":true},{"year":2019,"month":11,"date":22,"utc":true},{"year":2019,"month":11,"date":22,"hours":12,"utc":true},{"year":2019,"month":11,"date":23,"utc":true},{"year":2019,"month":11,"date":23,"hours":12,"utc":true},{"year":2019,"month":11,"date":24,"utc":true},{"year":2019,"month":11,"date":24,"hours":12,"utc":true},{"year":2019,"month":11,"date":25,"utc":true},{"year":2019,"month":11,"date":25,"hours":12,"utc":true},{"year":2019,"month":11,"date":26,"utc":true},{"year":2019,"month":11,"date":26,"hours":12,"utc":true},{"year":2019,"month":11,"date":27,"utc":true},{"year":2019,"month":11,"date":27,"hours":12,"utc":true},{"year":2019,"month":11,"date":28,"utc":true}],
"labelExpr": "utchours(datum.value) == 0 ? utcFormat(datum.value, '%d. %b') : utcFormat(datum.value, '%H:%M')",
"grid": true, "gridColor": "#e6ebf0", "ticks": false, "domainColor": "#9a9a9a", "labelColor": "#666666", "labelFont": "Roboto", "labelFontSize": 11,
"labelPadding": 9, "labelFlush": false, "labelOverlap": false, "zindex": 0,
"title": "From November 21, 2019 – To November 28, 2019", "titleFont": "DejaVu Sans", "titleFontSize": 16, "titleFontWeight": "normal", "titleColor": "#000000",
"titleX": 974, "titleY": 87.7, "titleAlign": "left", "titleBaseline": "alphabetic"}},
"y": {"field": "p", "type": "quantitative", "scale": {"domain": [6222.9, 8002.4], "nice": false, "zero": false},
"axis": {"orient": "right", "values": [6400, 6600, 6800, 7000, 7200, 7400, 7600, 7800], "format": "$,.0f",
"grid": true, "gridColor": "#d8e1e9", "ticks": false, "domainColor": "#9a9a9a", "labelColor": "#7dc67a", "labelFont": "Roboto", "labelFontSize": 11, "labelPadding": 8, "zindex": 0,
"title": "(+8.24%)", "titleFont": "Roboto", "titleFontSize": 22.5, "titleFontWeight": "normal", "titleColor": "#72c06d",
"titleAngle": 0, "titleX": -1201, "titleY": -32, "titleAlign": "left", "titleBaseline": "alphabetic"}},
"color": {"datum": "Price", "type": "nominal", "scale": {"range": ["#70bf6b"]},
"legend": {"orient": "none", "legendX": 588, "legendY": 460, "title": null, "padding": 0, "symbolType": "stroke", "symbolSize": 256, "symbolStrokeWidth": 2,
"labelFont": "DejaVu Sans", "labelFontSize": 11, "labelFontWeight": "bold", "labelColor": "#555555", "labelOffset": 5}}
}
},
{
"data": {"values": [{}]},
"mark": {"type": "rule", "color": "#8799aa", "strokeDash": [1.5, 3], "strokeWidth": 1},
"encoding": {"y": {"datum": 7512, "type": "quantitative", "scale": {"domain": [6222.9, 8002.4], "nice": false, "zero": false}, "axis": null}}
},
{
"data": {"values": [{}]},
"mark": {"type": "rect", "color": "#7fc77b"},
"encoding": {
"x": {"datum": {"year":2019,"month":11,"date":28,"hours":11,"minutes":53,"utc":true}, "type": "temporal", "axis": null},
"x2": {"datum": {"year":2019,"month":11,"date":28,"hours":18,"minutes":39,"utc":true}},
"y": {"datum": 7454, "type": "quantitative", "scale": {"domain": [6222.9, 8002.4], "nice": false, "zero": false}, "axis": null},
"y2": {"datum": 7568}
}
},
{
"data": {"values": [{}]},
"mark": {"type": "text", "align": "left", "baseline": "middle", "font": "Roboto", "fontSize": 12, "color": "white", "text": "$7,512"},
"encoding": {
"x": {"datum": {"year":2019,"month":11,"date":28,"hours":12,"minutes":57,"utc":true}, "type": "temporal", "axis": null},
"y": {"datum": 7512, "type": "quantitative", "scale": {"domain": [6222.9, 8002.4], "nice": false, "zero": false}, "axis": null}
}
}
],
"resolve": {"scale": {"y": "independent", "color": "independent"}, "axis": {"x": "independent", "y": "independent"}}
}
